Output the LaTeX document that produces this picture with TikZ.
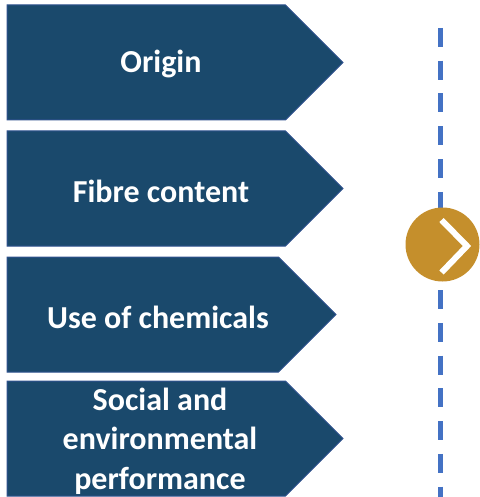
\documentclass[tikz,border=0pt]{standalone}
\usepackage{xcolor}
\usepackage{fontspec}
\setmainfont{Carlito}
\usepackage{tikz}
\usetikzlibrary{shapes.symbols, positioning}
\definecolor{boxnavy}{HTML}{1A496C}
\definecolor{boxedge}{HTML}{2F528F}
\definecolor{dashblue}{HTML}{4472C4}
\definecolor{dotgold}{HTML}{C58F2C}
\tikzset{
    arrowbox/.style={draw=boxedge, line width=1pt, fill=boxnavy, signal, signal to=east, signal pointer angle=90, minimum height=115pt, minimum width=336pt, inner sep=0pt, outer sep=0pt},
    boxtext/.style={text=white, align=center, font=\fontsize{32}{39.5}\selectfont\bfseries, inner sep=0pt}
}

\begin{document}
\begin{tikzpicture}[x=1pt, y=1pt]
    \useasboundingbox (0,0) rectangle (479,-497);

    \node[arrowbox, anchor=north west] (origin) at (7,-5) {};
    \node[arrowbox, below=11pt of origin.south west, anchor=north west] (fibre) {};
    \node[arrowbox, minimum width=329pt, below=11pt of fibre.south west, anchor=north west] (chem) {};
    \node[arrowbox, below=9pt of chem.south west, anchor=north west] (social) {};

    \node[boxtext] (origintext) at (161,-64) {Origin};
    \node[boxtext] (fibretext) at (161,-191) {Fibre content};
    \node[boxtext] (chemtext) at (158,-317) {Use of chemicals};
    \node[boxtext] (socialtext) at (160,-441) {Social and\\environmental\\performance};

    \coordinate (linetop) at (440.5,-28);
    \coordinate (linebottom) at (440.5,-497);
    \draw[dashblue, line width=5pt, dash pattern=on 19pt off 13.75pt] (linetop) -- (linebottom);

    \node[circle, fill=dotgold, minimum size=74pt, inner sep=0pt] (dot) at (442.5,-244.5) {};
    \draw[white, line width=6pt] ([shift={(-1,24.5)}]dot.center) -- ([shift={(24.5,-1.5)}]dot.center) -- ([shift={(-1,-28)}]dot.center);
\end{tikzpicture}
\end{document}
